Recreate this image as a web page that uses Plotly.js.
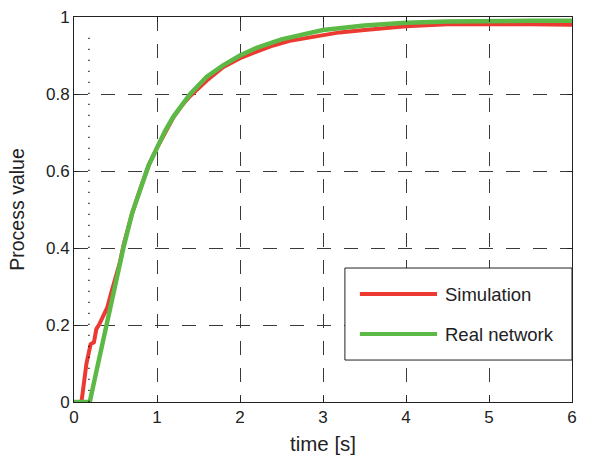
<!DOCTYPE html>
<html>
<head>
<meta charset="utf-8">
<script src="https://cdn.plot.ly/plotly-3.0.1.min.js"></script>
<style>html,body{margin:0;padding:0;background:#fff;}#chart{width:599px;height:457px;}</style>
</head>
<body>
<div id="chart"></div>
<script>
// Data
var simTime = [0, 0.09, 0.15, 0.2, 0.24, 0.27, 0.3, 0.33, 0.4, 0.45, 0.5, 0.55, 0.6, 0.7, 0.8, 0.9, 1.0, 1.1, 1.2, 1.3, 1.4, 1.5, 1.6, 1.8, 2.0, 2.2, 2.4, 2.6, 2.8, 3.0, 3.2, 3.5, 3.8, 4.0, 4.5, 5.0, 5.5, 6.0];
var simValue = [0, 0, 0.1, 0.15, 0.155, 0.19, 0.2, 0.215, 0.245, 0.285, 0.325, 0.36, 0.41, 0.49, 0.555, 0.615, 0.66, 0.70, 0.74, 0.77, 0.795, 0.815, 0.835, 0.87, 0.893, 0.91, 0.926, 0.938, 0.946, 0.953, 0.96, 0.966, 0.973, 0.976, 0.981, 0.982, 0.981, 0.98];
var realTime = [0, 0.19, 0.25, 0.3, 0.4, 0.5, 0.6, 0.7, 0.8, 0.9, 1.0, 1.1, 1.2, 1.4, 1.6, 1.8, 2.0, 2.2, 2.5, 2.8, 3.0, 3.5, 4.0, 4.5, 5.0, 5.5, 6.0];
var realValue = [0, 0, 0.06, 0.11, 0.21, 0.31, 0.405, 0.49, 0.555, 0.615, 0.66, 0.705, 0.742, 0.80, 0.845, 0.875, 0.90, 0.92, 0.942, 0.958, 0.966, 0.978, 0.985, 0.988, 0.99, 0.99, 0.99];
var seriesNames = ['Simulation', 'Real network'];
var xTicks = [0, 1, 2, 3, 4, 5, 6];
var yTicks = [0, 0.2, 0.4, 0.6, 0.8, 1];
var yTickLabels = ['0', '0.2', '0.4', '0.6', '0.8', '1'];
var markerTime = 0.18;
var markerTop = 0.96;

var redColor = '#ec3a32';
var greenColor = '#5cb946';
var font = 'Liberation Sans, Arial, Helvetica, sans-serif';

var traces = [
  {x: simTime, y: simValue, mode: 'lines', name: seriesNames[0], line: {color: redColor, width: 4}},
  {x: realTime, y: realValue, mode: 'lines', name: seriesNames[1], line: {color: greenColor, width: 4.5}}
];

var axisCommon = {
  showline: true, linecolor: '#222', linewidth: 1, mirror: 'ticks',
  ticks: 'inside', ticklen: 5, tickcolor: '#222', tickwidth: 1,
  showgrid: true, gridcolor: '#3a3a3a', gridwidth: 1, griddash: '14px,13px',
  zeroline: false, tickfont: {family: font, size: 17, color: '#222'}
};

var lx0 = 0.544, lx1 = 1.0, ly0 = 0.109, ly1 = 0.348;
var layout = {
  width: 599, height: 457,
  margin: {l: 74, r: 27, t: 17, b: 55},
  paper_bgcolor: '#fff', plot_bgcolor: '#fff',
  showlegend: false,
  font: {family: font, color: '#222'},
  xaxis: Object.assign({}, axisCommon, {
    range: [0, 6], tickvals: xTicks, ticktext: xTicks.map(String),
    title: {text: 'time [s]', font: {family: font, size: 20.5, color: '#222'}, standoff: 10}
  }),
  yaxis: Object.assign({}, axisCommon, {
    range: [0, 1], tickvals: yTicks, ticktext: yTickLabels,
    title: {text: 'Process value', font: {family: font, size: 19.5, color: '#222'}, standoff: 16}
  }),
  shapes: [
    {type: 'line', xref: 'x', yref: 'y', x0: markerTime, x1: markerTime, y0: 0, y1: markerTop,
     line: {color: '#111', width: 1.3, dash: '1.3px,9.7px'}},
    {type: 'rect', xref: 'paper', yref: 'paper', x0: lx0, x1: lx1, y0: ly0, y1: ly1,
     fillcolor: '#fff', line: {color: '#222', width: 1}, layer: 'above'},
    {type: 'line', xref: 'paper', yref: 'paper', x0: 0.574, x1: 0.729, y0: 0.2805, y1: 0.2805,
     line: {color: redColor, width: 4}, layer: 'above'},
    {type: 'line', xref: 'paper', yref: 'paper', x0: 0.574, x1: 0.729, y0: 0.1766, y1: 0.1766,
     line: {color: greenColor, width: 4}, layer: 'above'}
  ],
  annotations: [
    {xref: 'paper', yref: 'paper', x: 0.74, y: 0.2805, xanchor: 'left', yanchor: 'middle',
     text: seriesNames[0], showarrow: false, font: {family: font, size: 18.5, color: '#222'}},
    {xref: 'paper', yref: 'paper', x: 0.74, y: 0.1766, xanchor: 'left', yanchor: 'middle',
     text: seriesNames[1], showarrow: false, font: {family: font, size: 18.5, color: '#222'}}
  ]
};

Plotly.newPlot('chart', traces, layout, {displayModeBar: false, staticPlot: true});
</script>
</body>
</html>
